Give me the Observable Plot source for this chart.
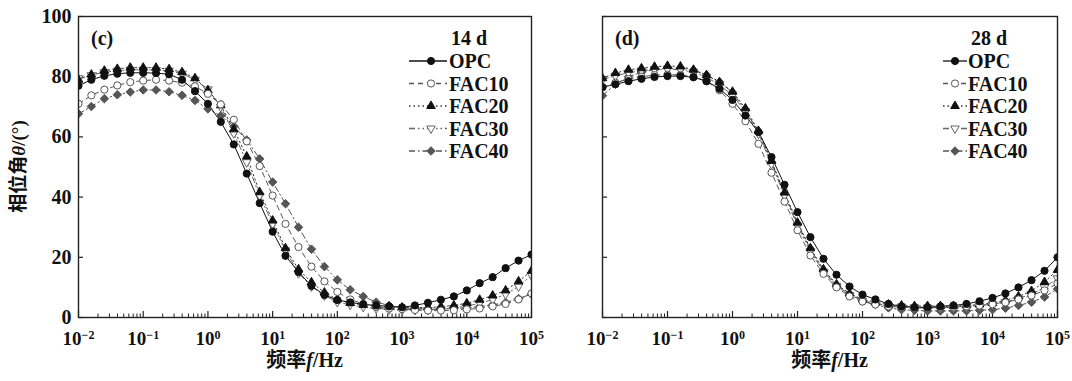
<!DOCTYPE html>
<html><head><meta charset="utf-8">
<script src="https://cdn.jsdelivr.net/npm/d3@7"></script>
<script src="https://cdn.jsdelivr.net/npm/@observablehq/plot@0.6"></script>
<style>
body{margin:0;background:#fff;}
#wrap{display:flex;width:1072px;height:381px;}
#wrap svg{overflow:visible;display:block}
</style></head><body><div id="wrap"></div>
<script>
// ---------------- data ----------------
const freqHz = [0.01, 0.0158, 0.0251, 0.0398, 0.0631, 0.1, 0.158, 0.251, 0.398, 0.631,
  1, 1.58, 2.51, 3.98, 6.31, 10, 15.8, 25.1, 39.8, 63.1,
  100, 158, 251, 398, 631, 1000, 1580, 2510, 3980, 6310,
  10000, 15800, 25100, 39800, 63100, 100000];
const seriesNames = ["OPC", "FAC10", "FAC20", "FAC30", "FAC40"];

const opc14   = [77, 79, 80.3, 81, 81.3, 81.3, 81.2, 80.8, 79, 75.2, 71, 65, 57.5, 47.8, 38, 28.5, 20.5, 15.1, 10.5, 7.5, 5.8, 5, 4.4, 4, 3.7, 3.4, 4, 4.9, 5.9, 7, 9, 11.4, 13.4, 16.4, 18.9, 20.9];
const fac10_14 = [71, 73.8, 75.7, 77.1, 78.2, 78.7, 79, 78.7, 78, 76.8, 74.3, 70.8, 65.7, 58.5, 50.3, 40.5, 31.1, 23.4, 16.9, 12, 8.5, 6, 4.5, 3.5, 3, 2.8, 2.5, 2.3, 2.3, 2.4, 2.7, 3, 3.7, 4.5, 6, 8];
const fac20_14 = [79, 80.7, 82, 82.6, 83, 83, 83, 82.5, 81.5, 79.5, 75.5, 70.5, 62.5, 53.5, 41.6, 32.2, 23, 16, 11.7, 8.3, 6, 4.8, 4.2, 3.8, 3.5, 3.3, 3.3, 3.3, 3.6, 4, 4.7, 5.9, 7.3, 9, 12, 15.5];
const fac30_14 = [79.5, 80.5, 81.5, 82, 82.3, 82.3, 82.2, 82, 81, 79, 75.8, 70, 61.2, 51.6, 40.5, 31.1, 22.3, 14.7, 10.3, 7.3, 5.1, 4.2, 3.5, 3, 2.7, 2.5, 2.5, 2.5, 2.7, 3.2, 3.8, 4.7, 6, 7.7, 10.3, 14];
const fac40_14 = [67.7, 70.1, 72.7, 74, 74.9, 75.6, 75.6, 75, 73.8, 72.1, 69.3, 67, 63.5, 59, 52.7, 45, 37.8, 30, 22.7, 16.9, 12.5, 9.2, 7, 5.1, 4, 3.2, 3, 2.8, 2.8, 3, 3.2, 3.6, 4.2, 5, 6.3, 7.8];

const opc28   = [76.5, 77.5, 78.5, 79.3, 79.9, 80.2, 80.2, 79.8, 78.5, 76, 72.3, 67.1, 61.6, 53.3, 44.1, 35, 26.7, 19.5, 14.2, 10.3, 7.6, 6, 4.5, 3.7, 3.4, 3.4, 3.7, 4, 4.5, 5.4, 6.5, 8, 10, 12.4, 15.5, 20];
const fac10_28 = [76.5, 78, 79.2, 80, 80.5, 80.7, 80.6, 80, 78.5, 75.5, 71, 65.2, 57.7, 48.1, 38.5, 29, 20.6, 14.5, 10, 7, 5.3, 4.3, 3.7, 3.4, 3.2, 3.2, 3.3, 3.5, 3.7, 4, 4.4, 5, 6, 7.3, 9, 11.3];
const fac20_28 = [79.5, 81.2, 82.3, 82.8, 83.3, 83.6, 83.4, 82.3, 80.5, 78.2, 75, 69.5, 62, 52, 41.5, 31.5, 23, 16, 11, 8, 6, 5, 4.3, 4, 3.8, 3.8, 3.8, 3.8, 4, 4.3, 4.8, 5.7, 7, 8.8, 11.8, 15.8];
const fac30_28 = [79, 80.3, 81.3, 82, 82.4, 82.5, 82.3, 81.5, 79.8, 77.3, 73.8, 68.5, 61, 51, 40.5, 30.5, 22, 15.2, 10.5, 7.5, 5.6, 4.6, 4, 3.6, 3.4, 3.3, 3.3, 3.4, 3.6, 4, 4.4, 5.2, 6.3, 7.8, 10, 13];
const fac40_28 = [73.7, 77.5, 80, 81.5, 82.4, 82.8, 82.8, 82.2, 80.6, 78.3, 74.8, 68.8, 61.6, 51.6, 41.1, 31.1, 22.8, 15.6, 10.9, 7.9, 5.6, 4.3, 3.2, 2.6, 2.4, 2.2, 2.2, 2.2, 2.2, 2.4, 2.6, 3.1, 4, 5.1, 6.8, 9.5];

const xTickExponents = [-2, -1, 0, 1, 2, 3, 4, 5];
const yTicks = [0, 20, 40, 60, 80, 100];
const panelLabels = ["(c)", "(d)"];
const ageLabels = ["14 d", "28 d"];

// ---------------- styling ----------------
const triUp = {draw(ctx, size) {
  const s = Math.sqrt(size / (Math.sqrt(3) / 4)), h = s * Math.sqrt(3) / 2;
  ctx.moveTo(0, -2 * h / 3); ctx.lineTo(s / 2, h / 3); ctx.lineTo(-s / 2, h / 3); ctx.closePath();
}};
const triDown = {draw(ctx, size) {
  const s = Math.sqrt(size / (Math.sqrt(3) / 4)), h = s * Math.sqrt(3) / 2;
  ctx.moveTo(0, 2 * h / 3); ctx.lineTo(s / 2, -h / 3); ctx.lineTo(-s / 2, -h / 3); ctx.closePath();
}};
const diamond = {draw(ctx, size) {
  const h = Math.sqrt(size / 2);
  ctx.moveTo(0, -h); ctx.lineTo(h, 0); ctx.lineTo(0, h); ctx.lineTo(-h, 0); ctx.closePath();
}};
const circle = {draw(ctx, size) { const r = Math.sqrt(size / Math.PI); ctx.moveTo(r, 0); ctx.arc(0, 0, r, 0, 2 * Math.PI); }};

const styles = {
  OPC:   {stroke: "#111", dash: null, symbol: circle, fill: "#111", mstroke: "#111", r: 3.6},
  FAC10: {stroke: "#555", dash: "5,4", symbol: circle, fill: "#fff", mstroke: "#555", r: 3.6},
  FAC20: {stroke: "#333", dash: "1.5,3", symbol: triUp, fill: "#111", mstroke: "#111", r: 3.2},
  FAC30: {stroke: "#666", dash: "6,3,1.5,3,1.5,3", symbol: triDown, fill: "#fff", mstroke: "#666", r: 3.2},
  FAC40: {stroke: "#555", dash: "6,3,1.5,3", symbol: diamond, fill: "#555", mstroke: "#555", r: 3.4}
};

const serif = "'Liberation Serif', 'Times New Roman', 'Noto Sans CJK SC', serif";

function rowsFor(arrays) {
  const rows = [];
  seriesNames.forEach((s, i) => arrays[i].forEach((v, j) => rows.push({series: s, f: freqHz[j], theta: v})));
  return rows;
}
const panels = [
  {rows: rowsFor([opc14, fac10_14, fac20_14, fac30_14, fac40_14]), width: 566, ml: 78, mr: 35, showY: true,
   legend: {titleX: 487, textX: 449, lineX0: 409, lineX1: 447, symX: 431}},
  {rows: rowsFor([opc28, fac10_28, fac20_28, fac30_28, fac40_28]), width: 506, ml: 36, mr: 15, showY: false,
   legend: {titleX: 441, textX: 402, lineX0: 377, lineX1: 401, symX: 389}}
];

const majors = xTickExponents.map(e => Math.pow(10, e));
const minors = [];
for (const e of xTickExponents.slice(0, -1)) for (let m = 2; m <= 9; m++) minors.push(m * Math.pow(10, e));

const H = 381, MT = 16, MB = 64, plotH = H - MT - MB;
const legendRows = [61, 83.5, 106, 128.5, 151];

panels.forEach((p, pi) => {
  const plotW = p.width - p.ml - p.mr;
  const marks = [
    Plot.tickX(minors, {x: d => d, insetTop: plotH - 3.5, stroke: "#222", strokeWidth: 1}),
    Plot.tickX(majors, {x: d => d, insetTop: plotH - 6, stroke: "#222", strokeWidth: 1.2}),
    Plot.tickY(yTicks, {y: d => d, insetRight: plotW - 5, stroke: "#222", strokeWidth: 1.2}),
  ];
  for (const s of seriesNames.slice().reverse()) {
    const st = styles[s];
    marks.push(Plot.line(p.rows.filter(d => d.series === s), {x: "f", y: "theta", stroke: st.stroke,
      strokeWidth: 1, strokeDasharray: st.dash, clip: "frame", curve: "linear"}));
  }
  for (const s of seriesNames.slice().reverse()) {
    const st = styles[s];
    marks.push(Plot.dot(p.rows.filter(d => d.series === s), {x: "f", y: "theta", symbol: () => st.symbol, r: st.r,
      fill: st.fill, stroke: st.mstroke, strokeWidth: 1, clip: "frame"}));
  }
  marks.push(Plot.frame({stroke: "#222", strokeWidth: 1.4}));
  marks.push(Plot.axisX(majors, {tickSize: 0, tickPadding: 14, fontSize: 19, fontWeight: "bold", fill: "#111",
    tickFormat: d => String(Math.round(Math.log10(d))), label: null}));
  if (p.showY) marks.push(Plot.axisY(yTicks, {tickSize: 0, tickPadding: 7, fontSize: 20, fontWeight: "bold", fill: "#111", label: null}));

  const chart = Plot.plot({
    width: p.width, height: H, marginLeft: p.ml, marginRight: p.mr, marginTop: MT, marginBottom: MB,
    x: {type: "log", domain: [0.01, 100000]},
    y: {domain: [0, 100], axis: p.showY ? undefined : null},
    symbol: {type: "identity"},
    style: {fontFamily: serif, fontSize: "18px", color: "#111", background: "transparent", overflow: "visible"},
    marks
  });
  document.getElementById("wrap").appendChild(chart);
  const svg = d3.select(chart.tagName.toLowerCase() === "svg" ? chart : chart.querySelector("svg"));

  // superscript exponents on x tick labels
  svg.selectAll('g[aria-label="x-axis tick label"] text').each(function () {
    const t = d3.select(this);
    const e = t.text();
    t.text("10");
    t.append("tspan").attr("dy", "-0.5em").attr("font-size", "12px").text(e.replace("-", "\u2212"));
  });

  // x title
  const xt = svg.append("text").attr("x", p.ml + plotW / 2).attr("y", 367).attr("text-anchor", "middle")
    .attr("font-family", serif).attr("font-size", 20).attr("font-weight", "bold").attr("fill", "#111");
  xt.append("tspan").text("频率");
  xt.append("tspan").attr("font-style", "italic").text("f");
  xt.append("tspan").text("/Hz");

  // y title
  if (p.showY) {
    const yt = svg.append("text").attr("transform", `translate(18,${MT + plotH / 2}) rotate(-90)`)
      .attr("text-anchor", "middle").attr("dominant-baseline", "central")
      .attr("font-family", serif).attr("font-size", 19).attr("font-weight", "bold").attr("fill", "#111");
    yt.append("tspan").text("相位角");
    yt.append("tspan").attr("font-style", "italic").text("θ");
    yt.append("tspan").text("/(°)");
  }

  // panel label
  svg.append("text").attr("x", p.ml + 13).attr("y", 45).attr("text-anchor", "start").attr("font-family", serif).attr("font-size", 20)
    .attr("font-weight", "bold").attr("fill", "#111").text(panelLabels[pi]);

  // legend
  const L = p.legend;
  const lg = svg.append("g").attr("font-family", serif).attr("font-size", 20).attr("font-weight", "bold")
    .attr("fill", "#111").attr("text-anchor", "start");
  lg.append("text").attr("x", L.titleX).attr("y", 45).attr("text-anchor", "end").text(ageLabels[pi]);
  seriesNames.forEach((s, i) => {
    const st = styles[s], y = legendRows[i];
    lg.append("line").attr("x1", L.lineX0).attr("x2", L.lineX1).attr("y1", y).attr("y2", y)
      .attr("stroke", st.stroke).attr("stroke-width", 1.3).attr("stroke-dasharray", st.dash);
    lg.append("path").attr("transform", `translate(${L.symX},${y})`)
      .attr("d", d3.symbol(st.symbol, st.r * st.r * Math.PI)())
      .attr("fill", st.fill).attr("stroke", st.mstroke).attr("stroke-width", 1);
    lg.append("text").attr("x", L.textX).attr("y", y + 7).attr("text-anchor", "start").text(s);
  });
});
</script></body></html>
